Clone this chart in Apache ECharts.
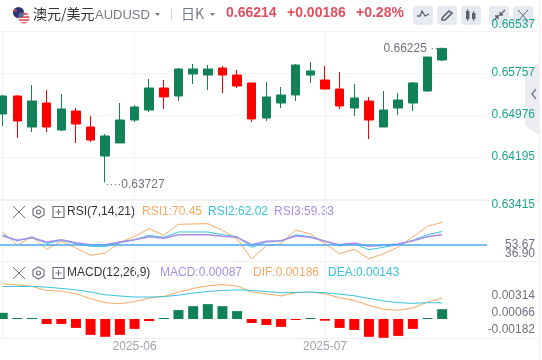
<!DOCTYPE html>
<html>
<head>
<meta charset="utf-8">
<style>
html,body{margin:0;padding:0;background:#fff;}
#main{width:542px;height:360px;}
</style>
<script src="https://cdn.jsdelivr.net/npm/echarts@6/dist/echarts.min.js"></script>
</head>
<body>
<div id="main"></div>
<script>
// K线
const opens  = [.64995,.65329,.64753,.65199,.64697,.65050,.64753,.64214,.64456,.64883,.65069,.65478,.65329,.65738,.65719,.65849,.65719,.65571,.64920,.65199,.65348,.65719,.65626,.65459,.65106,.65236,.64753,.65106,.65199,.65422,.65998];
const closes = [.65329,.64865,.65236,.64753,.65088,.64809,.64511,.64586,.64883,.65125,.65478,.65311,.65831,.65831,.65831,.65719,.65515,.64902,.65311,.65348,.65905,.65794,.65459,.65143,.65292,.64883,.65069,.65255,.65571,.66054,.66214];
const lows   = [.64772,.64549,.64660,.64660,.64679,.64456,.64474,.63727,.64456,.64846,.65032,.65088,.65236,.65552,.65441,.65385,.65478,.64846,.64865,.65106,.65236,.65571,.65441,.65088,.64957,.64530,.64753,.64976,.65050,.65403,.65980];
const highs  = [.65348,.65348,.65534,.65441,.65366,.65106,.64957,.64623,.65199,.65162,.65645,.65626,.65849,.65924,.65905,.65887,.65812,.65571,.65589,.65496,.65924,.65961,.65887,.65775,.65552,.65311,.65422,.65385,.65589,.66054,.66225];
// RSI
const rsi1 = [61.6,49.4,57.6,45.8,53.1,46.9,40.3,42.4,51.8,57.6,64.6,58.6,68.6,68.9,69.2,63.1,55.2,36.9,49.2,50.9,63.4,59.8,50.9,41.7,45.8,37.1,41.7,47.9,57.0,66.8,70.45];
const rsi2 = [59.1,53.4,57.0,50.9,54.0,50.9,48.5,48.1,51.8,54.5,58.6,56.7,61.6,61.6,61.6,59.1,57.3,47.6,52.4,53.1,59.1,57.3,53.4,48.8,50.9,45.4,47.6,50.0,54.0,59.1,62.02];
const rsi3 = [57.9,54.0,56.4,52.4,54.5,51.8,50.0,50.0,52.4,54.5,57.3,55.8,59.1,59.1,59.1,57.6,56.7,50.0,53.1,53.6,57.9,56.7,53.1,50.0,51.5,48.5,49.4,50.6,53.6,57.3,59.33];
// MACD
const macdBars = [.00055,.00001,.00001,-.00044,-.00044,-.00079,-.00141,-.00158,-.00141,-.00088,-.00018,.00003,.00079,.00114,.00132,.00114,.0007,-.00035,-.00053,-.0007,-.00009,.00004,-.00015,-.00079,-.00097,-.00158,-.00167,-.0015,-.00088,.00004,.00087];
const dif = [.00312,.00303,.00289,.00253,.00248,.00224,.00180,.00145,.00136,.00154,.00186,.00201,.00239,.00271,.00294,.00306,.00292,.00239,.00224,.00204,.00233,.00239,.00224,.00189,.00165,.00121,.00086,.00077,.00098,.00151,.00186];
const dea = [.00289,.00289,.00289,.00283,.00271,.00259,.00239,.00215,.00204,.00195,.00195,.00198,.00212,.00230,.00245,.00253,.00259,.00253,.00245,.00233,.00236,.00239,.00233,.00221,.00206,.00183,.00160,.00145,.00139,.00145,.00143];
// 坐标刻度
const priceTicks = [.66537,.65757,.64976,.64195,.63415];
const rsiTicks = [70.45,53.67,36.90,50];
const macdTicks = [.00314,.00066,-.00182];
const monthTicks = [9,22];
const monthLabels = ['2025-06','2025-07'];

const UP = '#118257', DOWN = '#ff0000';
const ORANGE = '#f7a864', CYAN = '#35c3de', PURPLE = '#a98de8';
const GRAY = '#6f7282', LINE = '#f3f3f6';
const xMin = -0.184, xMax = 33.06;

const candleData = opens.map((o, i) => [i, o, closes[i], lows[i], highs[i]]);
const withIndex = arr => arr.map((v, i) => [i, v]);

function xAxisOf(gridIndex, showLabel) {
    return {
        type: 'value', gridIndex, min: xMin, max: xMax,
        axisLine: {show: false},
        axisTick: {show: false, customValues: monthTicks},
        splitLine: {show: true, lineStyle: {color: LINE, width: 1}},
        axisLabel: {
            show: showLabel, customValues: monthTicks, color: '#a0a3b1', fontSize: 12, margin: 1,
            formatter: v => monthLabels[monthTicks.indexOf(v)]
        }
    };
}
function lineOf(name, x, y, data, color, width) {
    return {
        name, type: 'line', xAxisIndex: x, yAxisIndex: y, data: withIndex(data),
        symbol: 'none', silent: true, lineStyle: {color, width}
    };
}

// 顶部工具栏和指标标题
function text(str, x, y, fill, font, align) {
    return {type: 'text', style: {text: str, x, y, fill, font: font || '12px "Liberation Sans"', align: align || 'left', verticalAlign: 'middle'}};
}
function rule(x1, y1, x2, y2, color) {
    return {type: 'line', shape: {x1, y1, x2, y2}, style: {stroke: color || '#f0f0f4', lineWidth: 1}};
}
function button(x) {
    return {type: 'rect', shape: {x, y: 6, width: 20, height: 19, r: 4}, style: {fill: '#e7e9f0'}};
}
function poly(points, color, width) {
    return {type: 'polyline', shape: {points}, style: {stroke: color || '#5c5f70', fill: null, lineWidth: width || 1.3}};
}
function paneIcons(y) {
    return [
        rule(13, y - 6, 25, y + 6, '#6d7080'), rule(25, y - 6, 13, y + 6, '#6d7080'),
        {type: 'polygon', shape: {points: [[38.5, y - 6], [44, y - 3], [44, y + 3], [38.5, y + 6], [33, y + 3], [33, y - 3]]}, style: {stroke: '#6d7080', fill: null, lineWidth: 1.2}},
        {type: 'circle', shape: {cx: 38.5, cy: y, r: 2}, style: {stroke: '#6d7080', fill: null, lineWidth: 1.2}},
        {type: 'rect', shape: {x: 53, y: y - 5.5, width: 11, height: 11}, style: {stroke: '#6d7080', fill: null, lineWidth: 1.2}},
        rule(55.5, y, 61.5, y, '#6d7080'), rule(58.5, y - 3, 58.5, y + 3, '#6d7080')
    ];
}
const BOLD = 'bold 14px "Liberation Sans"';
const RED = '#e2505f';
const graphics = [
    // 右侧收起按钮
    {type: 'polygon', z: -1, shape: {points: [[525, 72], [539, 63], [539, 135], [525, 126]]}, style: {fill: '#ecedf2'}},
    poly([[536, 89], [532, 94], [536, 99]], '#777a88', 1.4),
    rule(539.5, 0, 539.5, 360, '#eeeeee'),
    // 分隔线
    rule(0, 31.5, 539, 31.5), rule(0, 200.5, 539, 200.5), rule(0, 261.5, 539, 261.5), rule(0, 338.5, 539, 338.5),
    // 国旗
    {type: 'circle', shape: {cx: 18.5, cy: 12.5, r: 5.5}, style: {fill: '#27367c'}},
    {type: 'circle', shape: {cx: 15.5, cy: 10.5, r: 1.6}, style: {fill: '#d8404c'}},
    {type: 'circle', shape: {cx: 24, cy: 18, r: 5.5}, style: {fill: '#e05a63'}},
    {type: 'rect', shape: {x: 19, y: 15, width: 10, height: 1.2}, style: {fill: '#fff'}},
    {type: 'rect', shape: {x: 19, y: 18, width: 10, height: 1.2}, style: {fill: '#fff'}},
    {type: 'rect', shape: {x: 19, y: 21, width: 10, height: 1.2}, style: {fill: '#fff'}},
    {type: 'circle', shape: {cx: 21, cy: 15, r: 2.6}, style: {fill: '#5b6794'}},
    text('澳元/美元', 33, 13.5, '#333333', '14px "Noto Sans CJK SC"'),
    text('AUDUSD', 95, 15, '#767a8a', '13px "Liberation Sans"'),
    {type: 'polygon', shape: {points: [[155, 13], [160, 13], [157.5, 16]]}, style: {fill: '#767a8a'}},
    rule(171.5, 8, 171.5, 21, '#d8d9de'),
    text('日K', 181, 13.5, '#767a8a', '14px "Noto Sans CJK SC"'),
    {type: 'polygon', shape: {points: [[210, 13], [215, 13], [212.5, 16]]}, style: {fill: '#767a8a'}},
    text('0.66214', 226, 13.5, RED, BOLD),
    text('+0.00186', 287, 13.5, RED, BOLD),
    text('+0.28%', 356, 13.5, RED, BOLD),
    button(413), button(437), button(461), button(489), button(513),
    poly([[417, 16], [420, 16], [422, 11], [425, 16], [429, 14]]), rule(417, 21, 429, 21),
    poly([[442, 18], [449, 11], [452, 13], [445, 20], [442, 20], [442, 18]], '#5c5f70', 1.6), rule(442, 21.5, 452, 21.5),
    {type: 'rect', shape: {x: 466, y: 11, width: 3.5, height: 8}, style: {fill: '#5c5f70'}},
    rule(467.7, 9, 467.7, 21, '#5c5f70'),
    {type: 'rect', shape: {x: 472, y: 13, width: 3.5, height: 6}, style: {fill: '#5c5f70'}},
    rule(473.7, 11, 473.7, 21, '#5c5f70'),
    poly([[493, 21], [498, 16], [495, 16], [498, 16], [498, 19]]), poly([[505, 10], [500, 15], [503, 15], [500, 15], [500, 12]]),
    rule(518, 10, 528, 21, '#5c5f70'), rule(528, 10, 518, 21, '#5c5f70'),
    // RSI 标题
    ...paneIcons(212),
    text('RSI(7,14,21)', 67, 212, '#333333'),
    text('RSI1:70.45', 142, 212, ORANGE),
    text('RSI2:62.02', 208, 212, CYAN),
    text('RSI3:59.33', 274, 212, PURPLE),
    // MACD 标题
    ...paneIcons(273),
    text('MACD(12,26,9)', 67, 273, '#333333'),
    text('MACD:0.00087', 160, 273, PURPLE),
    text('DIF:0.00186', 253, 273, ORANGE),
    text('DEA:0.00143', 328, 273, CYAN)
];

const option = {
    animation: false,
    backgroundColor: '#fff',
    textStyle: {fontFamily: '"Liberation Sans","Noto Sans CJK SC"'},
    graphic: graphics,
    grid: [
        {left: 0, width: 487, top: 31, height: 168},
        {left: 0, width: 487, top: 200, height: 60},
        {left: 0, width: 487, top: 261, height: 78.5}
    ],
    xAxis: [xAxisOf(0, false), xAxisOf(1, false), xAxisOf(2, true)],
    yAxis: [
        {
            type: 'value', gridIndex: 0, position: 'right', scale: true,
            min: .63415, max: .66537,
            axisLine: {show: true, lineStyle: {color: LINE}},
            axisTick: {show: false, customValues: priceTicks},
            splitLine: {show: true, lineStyle: {color: LINE, width: 1}},
            axisLabel: {
                customValues: priceTicks, fontSize: 12, align: 'right', margin: 48,
                verticalAlignMaxLabel: 'top', verticalAlignMinLabel: 'bottom',
                color: v => (v === priceTicks[0] ? '#e2505f' : '#1ca58e'),
                formatter: v => v.toFixed(5)
            }
        },
        {
            type: 'value', gridIndex: 1, position: 'right', min: 36, max: 90.8,
            axisLine: {show: true, lineStyle: {color: LINE}},
            axisTick: {show: true, customValues: [50], length: 17, lineStyle: {color: '#4aa8f5', width: 1.5}},
            splitLine: {show: false},
            axisLabel: {
                customValues: rsiTicks, fontSize: 12, align: 'right', margin: 48, color: GRAY,
                formatter: v => {
                    if (v === 50) return '{b|50.00}';
                    if (v === 70.45) return '{t|70.45}';
                    if (v === 36.9) return '{l|36.90}';
                    return '{m|' + v.toFixed(2) + '}';
                },
                rich: {
                    t: {padding: [25, 0, 0, 0], color: GRAY},
                    m: {padding: [8, 0, 0, 0], color: GRAY},
                    l: {padding: [0, 0, 10, 0], color: GRAY},
                    b: {color: '#2f9df4'}
                }
            }
        },
        {
            type: 'value', gridIndex: 2, position: 'right', min: -.00182, max: .005148,
            axisLine: {show: true, lineStyle: {color: LINE}},
            axisTick: {show: false, customValues: macdTicks},
            splitLine: {show: false},
            axisLabel: {
                customValues: macdTicks, fontSize: 12, align: 'right', margin: 48, color: GRAY,
                formatter: v => {
                    if (v === macdTicks[0]) return '{t|' + v.toFixed(5) + '}';
                    if (v === macdTicks[1]) return '{m|' + v.toFixed(5) + '}';
                    return '{l|' + v.toFixed(5) + '}';
                },
                rich: {
                    t: {padding: [24, 0, 0, 0], color: GRAY},
                    m: {padding: [3, 0, 0, 0], color: GRAY},
                    l: {padding: [0, 0, 20, 0], color: GRAY}
                }
            }
        }
    ],
    series: [
        {
            name: 'AUDUSD', type: 'candlestick', xAxisIndex: 0, yAxisIndex: 0,
            data: candleData, encode: {x: 0, y: [1, 2, 3, 4]}, barWidth: 9, silent: true,
            itemStyle: {color: UP, color0: DOWN, borderColor: UP, borderColor0: DOWN, borderWidth: 1},
            markPoint: {
                symbol: 'circle', symbolSize: 0, silent: true,
                data: [
                    {coord: [30, highs[30]], label: {position: 'left', distance: 0, formatter: highs[30].toFixed(5) + ' ···', offset: [0, 1]}},
                    {coord: [7, lows[7]], label: {position: 'right', distance: 0, formatter: '····' + lows[7].toFixed(5), offset: [0, 2]}}
                ],
                label: {show: true, color: GRAY, fontSize: 12}
            }
        },
        Object.assign(lineOf('RSI1', 1, 1, rsi1, ORANGE, 1), {
            markLine: {
                silent: true, symbol: 'none', animation: false,
                label: {show: false},
                lineStyle: {color: '#4aa8f5', width: 1.5, type: 'solid'},
                data: [{yAxis: 50}]
            }
        }),
        lineOf('RSI2', 1, 1, rsi2, CYAN, 1),
        lineOf('RSI3', 1, 1, rsi3, PURPLE, 1.5),
        {
            name: 'MACD', type: 'bar', xAxisIndex: 2, yAxisIndex: 2, data: withIndex(macdBars),
            barWidth: 10, silent: true,
            barMinHeight: 1,
            itemStyle: {color: p => (p.value[1] >= 0 ? UP : DOWN)}
        },
        lineOf('DIF', 2, 2, dif, ORANGE, 1),
        lineOf('DEA', 2, 2, dea, CYAN, 1)
    ]
};

const chart = echarts.init(document.getElementById('main'));
chart.setOption(option);
</script>
</body>
</html>
